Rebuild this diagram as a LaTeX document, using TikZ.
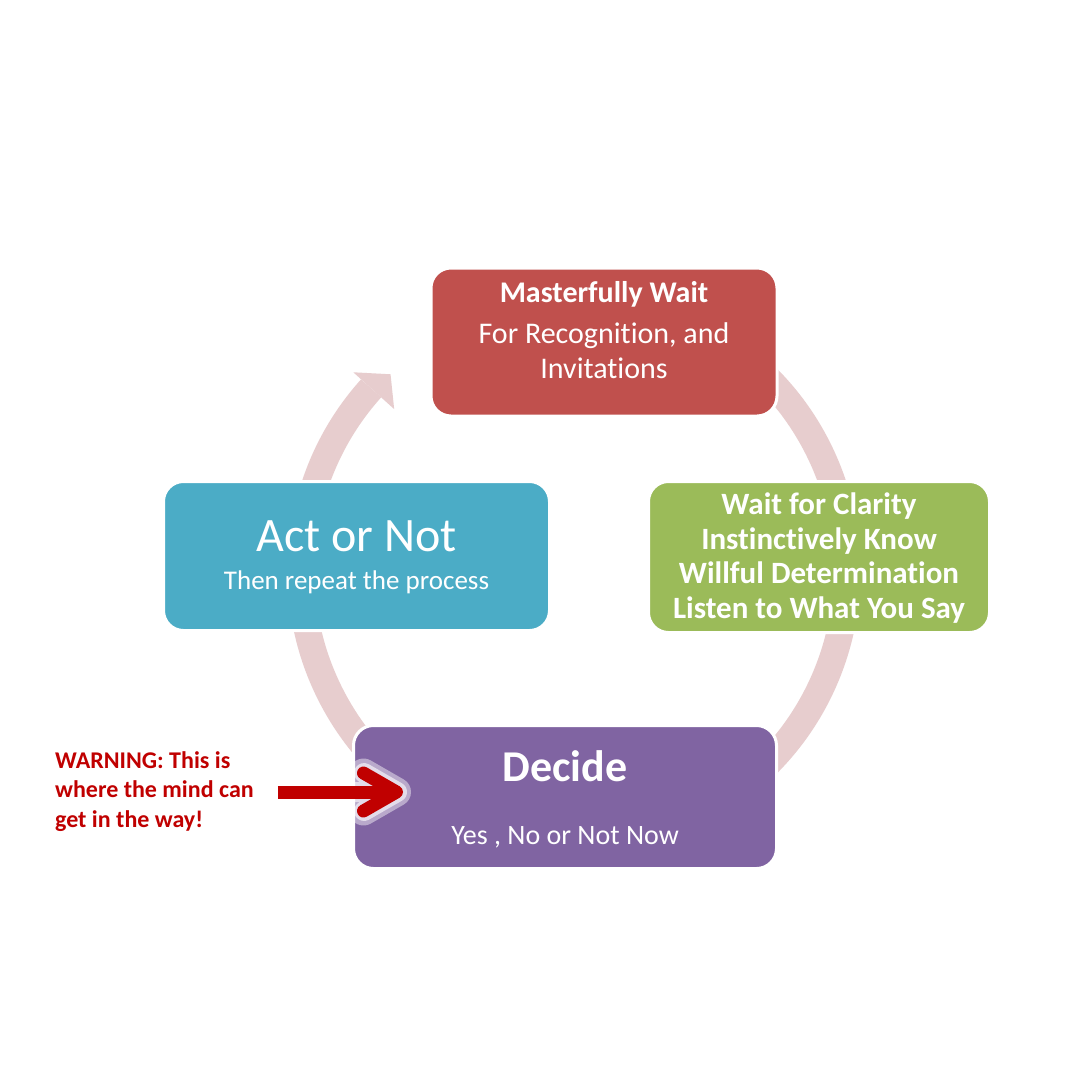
\documentclass[tikz,border=0pt]{standalone}
\usepackage{fontspec}
\setmainfont{Carlito}[Ligatures=NoCommon]
\usepackage{xcolor}
\usetikzlibrary{arrows.meta}
\definecolor{waitColor}{RGB}{192, 80, 77}
\definecolor{clarityColor}{RGB}{155, 187, 89}
\definecolor{actColor}{RGB}{75, 172, 198}
\definecolor{decideColor}{RGB}{128, 100, 162}
\definecolor{ringColor}{RGB}{231, 205, 206}
\definecolor{warnColor}{RGB}{192, 0, 0}

\begin{document}
\begin{tikzpicture}[x=1pt, y=-1pt,
    box/.style={draw=white, line width=3pt, rounded corners=20pt},
    boxtext/.style={text=white, align=center, inner sep=0pt},
    warnArrow/.style={line width=13pt, -{Straight Barb[length=33pt, width=38pt, round]}}]
\useasboundingbox[fill=white] (0,0) rectangle (1080,1080);
% cycle ring behind the boxes
\coordinate (hub) at (574,571);
\draw[ringColor, line width=27pt] (hub) ++(245:273) arc[start angle=245, end angle=582, radius=273];
\fill[ringColor] ([shift={(222:297)}]hub) -- ([shift={(227:269)}]hub) -- ([shift={(222:242)}]hub) -- cycle;
% boxes
\node[box, fill=waitColor, minimum width=346pt, minimum height=148pt] (wait) at (604,342) {};
\node[boxtext, font=\fontsize{30}{35}\selectfont] (waitText) at (604,330) {\textbf{Masterfully Wait}\\[6pt]For Recognition, and\\Invitations};
\node[box, fill=clarityColor, minimum width=341pt, minimum height=151pt] (clarity) at (819,557) {};
\node[boxtext, font=\fontsize{31}{34.5}\selectfont\bfseries] (clarityText) at (819,558) {Wait for Clarity\\Instinctively Know\\Willful Determination\\Listen to What You Say};
\node[box, fill=actColor, minimum width=386pt, minimum height=149pt] (act) at (356.5,556) {};
\node[boxtext, font=\fontsize{27}{38}\selectfont] (actText) at (356.5,557) {{\fontsize{48}{38}\selectfont Act or Not}\\Then repeat the process};
\node[box, fill=decideColor, minimum width=423pt, minimum height=143pt] (decide) at (565,797) {};
\node[boxtext, font=\fontsize{28}{63}\selectfont] (decideText) at (565,799) {{\fontsize{44}{63}\selectfont\bfseries Decide}\\Yes , No or Not Now};
% warning
\node[anchor=north west, inner sep=0pt, align=left, text=warnColor, font=\fontsize{24}{29.5}\selectfont\bfseries] (warn) at (55,751) {WARNING: This is\\where the mind can\\get in the way!};
\coordinate (warnTip) at (403,792);
\begin{scope}[transparency group, opacity=0.45]
\draw[warnArrow, white, line width=29pt, shorten <=32pt, shorten >=-8pt] (warn.east |- warnTip) -- (warnTip);
\end{scope}
\begin{scope}[transparency group, opacity=0.6]
\draw[warnArrow, white, line width=20pt, shorten <=28pt, shorten >=-4pt] (warn.east |- warnTip) -- (warnTip);
\end{scope}
\draw[warnArrow, warnColor, shorten <=24pt] (warn.east |- warnTip) -- (warnTip);
\end{tikzpicture}
\end{document}
